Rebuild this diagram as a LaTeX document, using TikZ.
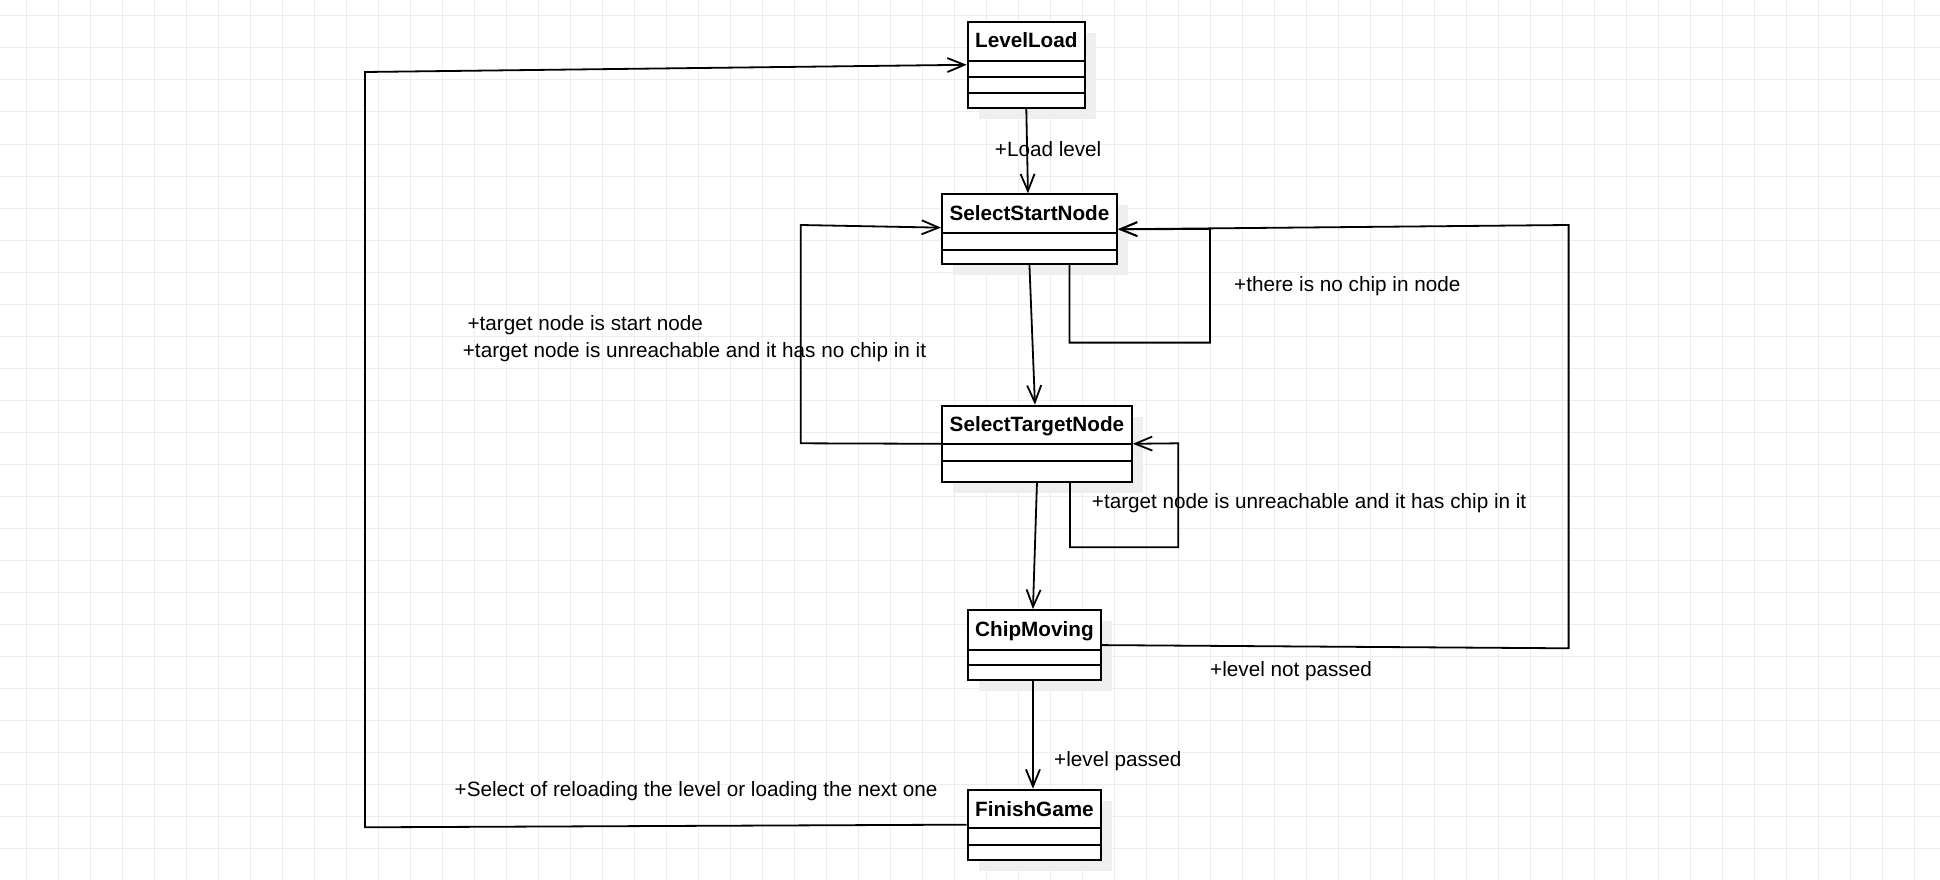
\documentclass[tikz,border=0pt]{standalone}
\usepackage{fontspec}
\setmainfont{Liberation Sans}
\usetikzlibrary{arrows.meta,shadows}
\definecolor{gridgray}{HTML}{EDEDED}
\definecolor{shadegray}{HTML}{EFEFEF}
\tikzset{
  gridline/.style={draw=gridgray, line width=1pt},
  classbox/.style={draw=black, fill=white, line width=1.9pt, anchor=north west, inner sep=0pt,
    general shadow={fill=shadegray, shadow xshift=11pt, shadow yshift=-11pt}},
  divider/.style={draw=black, line width=1.9pt},
  classname/.style={font=\fontsize{20.7pt}{24pt}\selectfont\bfseries, inner sep=0pt},
  edgelabel/.style={font=\fontsize{20.7pt}{24pt}\selectfont, anchor=west, inner sep=0pt},
  flow/.style={draw=black, line width=1.8pt, -{Straight Barb[length=17pt,width=14pt,line width=1.8pt]}},
}
\begin{document}
\begin{tikzpicture}[x=1pt, y=-1pt]
\useasboundingbox (0,0) rectangle (1940,880);
\fill[white] (0,0) rectangle (1940,880);

% background grid
\foreach \i in {0,...,59} { \draw[gridline] ({26.3+32*\i},0) -- ({26.3+32*\i},880); }
\foreach \j in {0,...,26} { \draw[gridline] (0,{16+32*\j}) -- (1940,{16+32*\j}); }

% class boxes
\node[classbox, minimum width=117.3pt, minimum height=86.3pt] (ll) at (966.7,20.7) {};
\node[classbox, minimum width=175pt, minimum height=70pt] (ss) at (941,193.3) {};
\node[classbox, minimum width=190pt, minimum height=76.3pt] (st) at (941,404.7) {};
\node[classbox, minimum width=133.6pt, minimum height=70.3pt] (cm) at (966.7,609) {};
\node[classbox, minimum width=133.6pt, minimum height=70pt] (fg) at (966.7,788.7) {};

% titles
\node[classname] (lln) at ([yshift=-19pt]ll.north) {LevelLoad};
\node[classname] (ssn) at ([yshift=-20pt]ss.north) {SelectStartNode};
\node[classname] (stn) at ([yshift=-21pt]st.north) {SelectTargetNode};
\node[classname] (cmn) at ([yshift=-22pt]cm.north) {ChipMoving};
\node[classname] (fgn) at ([yshift=-20pt]fg.north) {FinishGame};

% compartment dividers
\draw[divider] ([yshift=-40pt]ll.north west) -- ([yshift=-40pt]ll.north east);
\draw[divider] ([yshift=-56pt]ll.north west) -- ([yshift=-56pt]ll.north east);
\draw[divider] ([yshift=-72pt]ll.north west) -- ([yshift=-72pt]ll.north east);
\draw[divider] ([yshift=-39.4pt]ss.north west) -- ([yshift=-39.4pt]ss.north east);
\draw[divider] ([yshift=-56.4pt]ss.north west) -- ([yshift=-56.4pt]ss.north east);
\draw[divider] ([yshift=-39.6pt]st.north west) -- ([yshift=-39.6pt]st.north east);
\draw[divider] ([yshift=-56pt]st.north west) -- ([yshift=-56pt]st.north east);
\draw[divider] ([yshift=-41pt]cm.north west) -- ([yshift=-41pt]cm.north east);
\draw[divider] ([yshift=-56.3pt]cm.north west) -- ([yshift=-56.3pt]cm.north east);
\draw[divider] ([yshift=-39.6pt]fg.north west) -- ([yshift=-39.6pt]fg.north east);
\draw[divider] ([yshift=-56pt]fg.north west) -- ([yshift=-56pt]fg.north east);

% waypoints
\coordinate (loopL1) at (365,827.3);
\coordinate (loopL2) at (365,72);
\coordinate (loopT1) at (800.7,443.3);
\coordinate (loopT2) at (800.7,225);
\coordinate (loopR1) at (1568.6,648.3);
\coordinate (loopR2) at (1568.6,225);

% transitions down the main chain
\draw[flow] (ll.south) -- ([xshift=-1.5pt]ss.north);
\draw[flow] (ss.south) -- ([xshift=-2pt]st.north);
\draw[flow] (st.south) -- ([xshift=-1.5pt]cm.north);
\draw[flow] ([xshift=-1.5pt]cm.south) -- ([xshift=-1.5pt]fg.north);

% self loops
\draw[flow] ([xshift=40pt]ss.south) -- ++(0,77.4) -| (1210,229) -- (ss.east);
\draw[flow] ([xshift=33pt]st.south) -- ++(0,64.3) -| (1178.3,443.3) -- (st.east);

% return paths
\draw[flow] (st.west) -- (loopT1) -- (loopT2) -- ([yshift=1.6pt]ss.west);
\draw[flow] (cm.east) -- (loopR1) -- (loopR2) -- (ss.east);
\draw[flow] (fg.west) -- (loopL1) -- (loopL2) -- (ll.west);

% transition labels
\node[edgelabel] (t1) at (994.7,149.5) {+Load level};
\node[edgelabel] (t2) at (1234,286.5) {+there is no chip in node};
\node[edgelabel] (t3) at (467.3,324.8) {+target node is start node};
\node[edgelabel] (t4) at (462.7,351.8) {+target node is unreachable and it has no chip in it};
\node[edgelabel] (t5) at (1091.7,503.5) {+target node is unreachable and it has chip in it};
\node[edgelabel] (t6) at (1210,670.8) {+level not passed};
\node[edgelabel] (t7) at (1054,761) {+level passed};
\node[edgelabel] (t8) at (454.5,791.5) {+Select of reloading the level or loading the next one};
\end{tikzpicture}
\end{document}
